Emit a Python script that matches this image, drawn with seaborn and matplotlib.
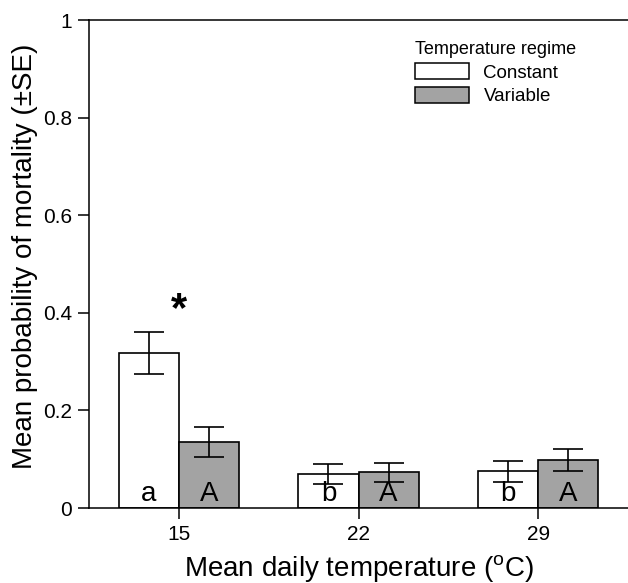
import matplotlib
matplotlib.use("Agg")
import matplotlib.pyplot as plt
import seaborn as sns
import pandas as pd
import numpy as np
from matplotlib.patches import Patch

temps = ["15", "22", "29"]
regimes = ["Constant", "Variable"]
constant_mean = [0.317, 0.070, 0.075]
constant_se = [0.043, 0.020, 0.021]
variable_mean = [0.135, 0.073, 0.098]
variable_se = [0.030, 0.020, 0.023]
constant_letters = ["a", "b", "b"]
variable_letters = ["A", "A", "A"]

df = pd.DataFrame({
    "temp": temps * 2,
    "regime": ["Constant"] * 3 + ["Variable"] * 3,
    "mean": constant_mean + variable_mean,
})

sns.set_style("ticks")
plt.rcParams["font.family"] = ["Liberation Sans", "DejaVu Sans"]
plt.rcParams["mathtext.fontset"] = "custom"
plt.rcParams["mathtext.rm"] = "Liberation Sans"
plt.rcParams["mathtext.it"] = "Liberation Sans"
plt.rcParams["mathtext.default"] = "regular"
for k in ["text.color", "axes.labelcolor", "xtick.color", "ytick.color",
          "axes.edgecolor"]:
    plt.rcParams[k] = "black"

fig = plt.figure(figsize=(6.28, 5.83), dpi=100)
ax = fig.add_axes([89 / 628, 75 / 583, 1 - 89 / 628, 488 / 583])

palette = {"Constant": "white", "Variable": "#a3a3a3"}
sns.barplot(data=df, x="temp", y="mean", hue="regime", order=temps,
            hue_order=regimes, palette=palette, edgecolor="black",
            linewidth=1.2, width=0.67, gap=0, errorbar=None, legend=False,
            saturation=1, ax=ax)

bar_conts = list(ax.containers)
ses = [constant_se, variable_se]
letters = [constant_letters, variable_letters]
for ci, cont in enumerate(bar_conts):
    for bi, bar in enumerate(cont.patches):
        xc = bar.get_x() + bar.get_width() / 2
        h = bar.get_height()
        ax.errorbar(xc, h, yerr=ses[ci][bi], fmt="none", ecolor="black",
                    elinewidth=1.2, capsize=10.5, capthick=1.2, zorder=5)
        ax.text(xc, 0.003, letters[ci][bi], ha="center", va="bottom",
                fontsize=20, color="black", zorder=6)

# asterisk over the 15 group
b0 = bar_conts[0].patches[0]
x15 = b0.get_x() + b0.get_width()
ax.text(x15, 0.365, "*", ha="center", va="bottom", fontsize=30,
        fontweight="bold", color="black")

ax.set_xlim(-0.5, 2.5)
ax.set_ylim(0, 1)
ax.set_yticks([0, 0.2, 0.4, 0.6, 0.8, 1])
ax.set_yticklabels(["0", "0.2", "0.4", "0.6", "0.8", "1"])
ax.tick_params(axis="both", direction="out", length=8, width=1.1,
               labelsize=15, pad=4, colors="black")
for s in ["left", "bottom", "top"]:
    ax.spines[s].set_linewidth(1.1)
    ax.spines[s].set_color("black")
ax.spines["right"].set_visible(False)

ax.set_xlabel("Mean daily temperature ($^{o}$C)", fontsize=20, labelpad=7)
ax.set_ylabel("Mean probability of mortality (\u00b1SE)", fontsize=20)
ax.yaxis.set_label_coords(-0.095, 0.515)

handles = [Patch(facecolor="white", edgecolor="black", linewidth=1.1),
           Patch(facecolor="#a3a3a3", edgecolor="black", linewidth=1.1)]
leg = ax.legend(handles, regimes, title="Temperature regime",
                loc="upper left", bbox_to_anchor=(415 / 628, 1 - 41 / 583),
                bbox_transform=fig.transFigure, frameon=False, fontsize=13.5,
                title_fontsize=13, handlelength=2.9, handleheight=0.92,
                handletextpad=0.75, labelspacing=0.28, borderpad=0,
                borderaxespad=0, alignment="left")

fig.savefig("out.png", dpi=100)
